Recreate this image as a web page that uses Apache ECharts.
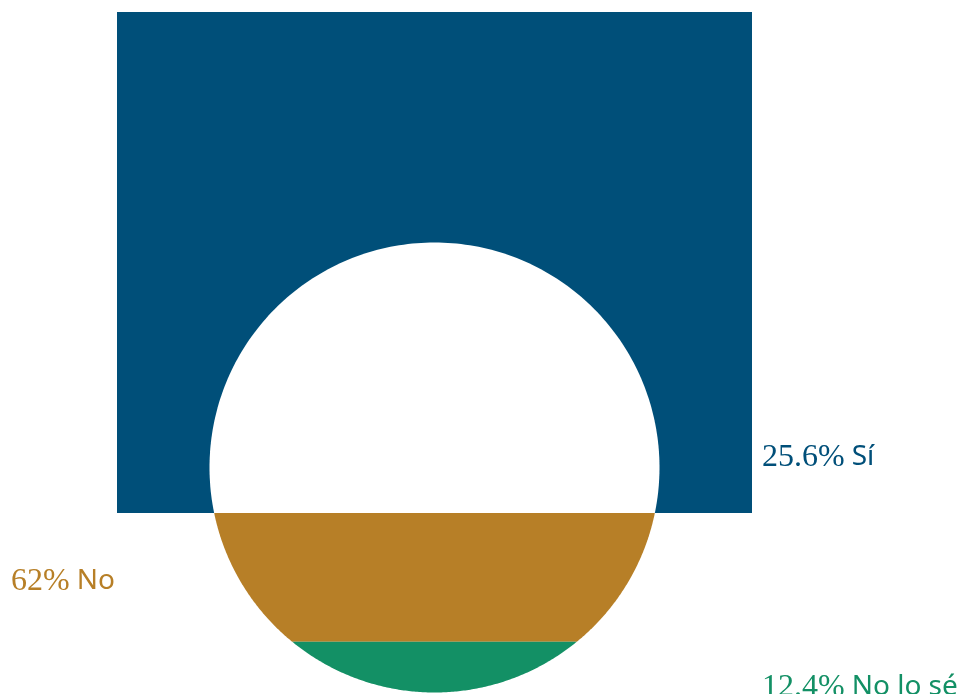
<!DOCTYPE html>
<html>
<head>
<meta charset="utf-8">
<script src="https://cdn.jsdelivr.net/npm/echarts@6/dist/echarts.min.js"></script>
<style>
  html, body { margin: 0; padding: 0; background: #ffffff; }
  #chart { width: 960px; height: 694px; }
</style>
</head>
<body>
<div id="chart"></div>
<script>
// Survey answers, listed top to bottom of the figure
const categories = ['Sí', 'No', 'No lo sé'];
const values = [25.6, 62, 12.4];
const colors = ['#004f79', '#b77f27', '#139065'];

// Label placement per answer (side of the figure and vertical nudge in px)
const labelLayout = [
  { side: 'right', dy: -10 },
  { side: 'left', dy: 4 },
  { side: 'right', dy: 20 }
];

// Area of the unit circle lying below the horizontal line y = c
function areaBelow(c) {
  return Math.acos(-c) + c * Math.sqrt(1 - c * c);
}

// Height of the chord whose lower segment holds fraction f of the lower half disc
function chordAt(f) {
  const target = f * Math.PI / 2;
  let lo = -1, hi = 1;
  for (let k = 0; k < 60; k++) {
    const mid = (lo + hi) / 2;
    if (areaBelow(mid) < target) lo = mid; else hi = mid;
  }
  return (lo + hi) / 2;
}

function bandPoints(api, c1, c2) {
  const a1 = Math.asin(Math.max(-1, Math.min(1, c1)));
  const a2 = Math.asin(Math.max(-1, Math.min(1, c2)));
  const n = 90;
  const pts = [];
  for (let k = 0; k <= n; k++) {
    const a = a1 + (a2 - a1) * k / n;
    pts.push(api.coord([Math.cos(a), Math.sin(a)]));
  }
  for (let k = n; k >= 0; k--) {
    const a = a1 + (a2 - a1) * k / n;
    pts.push(api.coord([-Math.cos(a), Math.sin(a)]));
  }
  return pts;
}

function renderItem(params, api) {
  const i = params.dataIndex;
  const cs = params.coordSys;
  const v = api.value(2);
  let below = 0;
  for (let j = i + 1; j < values.length; j++) below += values[j];
  const cLo = chordAt(below / 100);
  const cHi = chordAt(Math.min(1, (below + v) / 100));
  const yLo = api.coord([0, cLo])[1];
  const yHi = api.coord([0, cHi])[1];
  const children = [];

  if (i === 0) {
    // top answer: the field around the disc, from its chord upward
    children.push({
      type: 'rect',
      shape: { x: cs.x, y: cs.y, width: cs.width, height: yLo - cs.y },
      style: { fill: colors[i] }
    });
    children.push({
      type: 'polygon',
      shape: { points: bandPoints(api, cLo, 1) },
      style: { fill: '#ffffff' }
    });
  } else {
    children.push({
      type: 'polygon',
      shape: { points: bandPoints(api, cLo, cHi) },
      style: { fill: colors[i] }
    });
  }

  const lay = labelLayout[i];
  const anchorY = i === 0 ? yHi : (yLo + yHi) / 2;
  const lx = lay.side === 'right' ? cs.x + cs.width + 10 : 11;
  children.push({
    type: 'text',
    z2: 10,
    style: {
      x: lx,
      y: anchorY + lay.dy,
      text: '{n|' + v + '%}{t|' + categories[i] + '}',
      align: 'left',
      verticalAlign: 'middle',
      fill: colors[i],
      rich: {
        n: { fontFamily: 'Liberation Serif', fontSize: 32, fill: colors[i] },
        t: { fontFamily: 'Noto Sans', fontSize: 28, fill: colors[i], padding: [0, 0, 0, 7] }
      }
    }
  });

  return { type: 'group', children: children };
}

const chart = echarts.init(document.getElementById('chart'), null, { renderer: 'canvas' });
chart.setOption({
  animation: false,
  backgroundColor: '#ffffff',
  grid: { left: 117, right: 208, top: 12, bottom: 1.5 },
  xAxis: { type: 'value', min: -1.4111, max: 1.4111, show: false },
  yAxis: { type: 'value', min: -1, max: 2.0244, show: false },
  series: [{
    type: 'custom',
    renderItem: renderItem,
    clip: false,
    data: categories.map((c, i) => ({ name: c, value: [0, 0, values[i]] }))
  }]
});
</script>
</body>
</html>
